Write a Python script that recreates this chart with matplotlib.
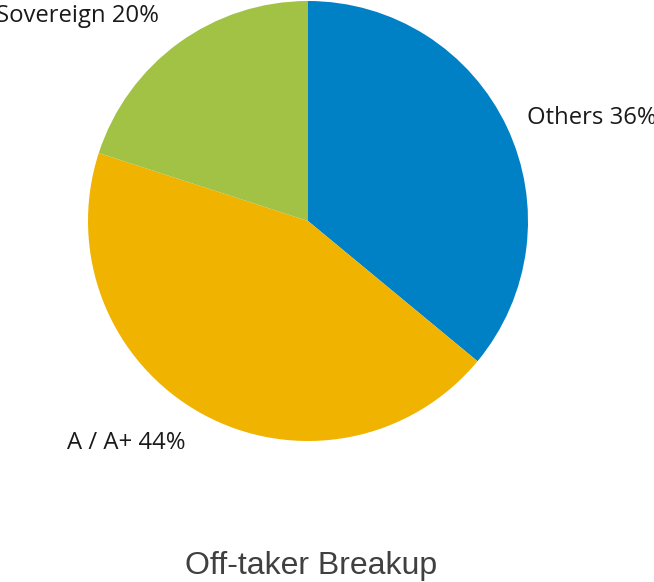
import numpy as np
import matplotlib.pyplot as plt

labels = ['Others 36%', 'A / A+ 44%', 'Sovereign 20%']
shares = [36, 44, 20]
colors = ['#0081c6', '#f0b300', '#a1c245']
label_dist = [1.1, 1.15, 1.15]

fig = plt.figure(figsize=(6.54, 5.82), dpi=100)
# pie box: centre (308,221) px, radius 220 px
ax = fig.add_axes([88 / 654, (582 - 441) / 582, 440 / 654, 440 / 582])
wedges, texts = ax.pie(shares, labels=labels, colors=colors, startangle=90,
                       counterclock=False, labeldistance=1.15, radius=1,
                       textprops={'family': 'Open Sans', 'fontsize': 17.2,
                                  'color': '#1a1a1a'})
for w, t, d in zip(wedges, texts, label_dist):
    ang = np.deg2rad((w.theta1 + w.theta2) / 2)
    t.set_position((d * np.cos(ang), d * np.sin(ang)))
ax.set_xlim(-1, 1)
ax.set_ylim(-1, 1)
ax.set_aspect('equal')

fig.text(311 / 654, 1 - 566 / 582, 'Off-taker Breakup', ha='center', va='center',
         family='Liberation Sans', fontsize=23, color='#404040')

fig.savefig('out.png', dpi=100)
